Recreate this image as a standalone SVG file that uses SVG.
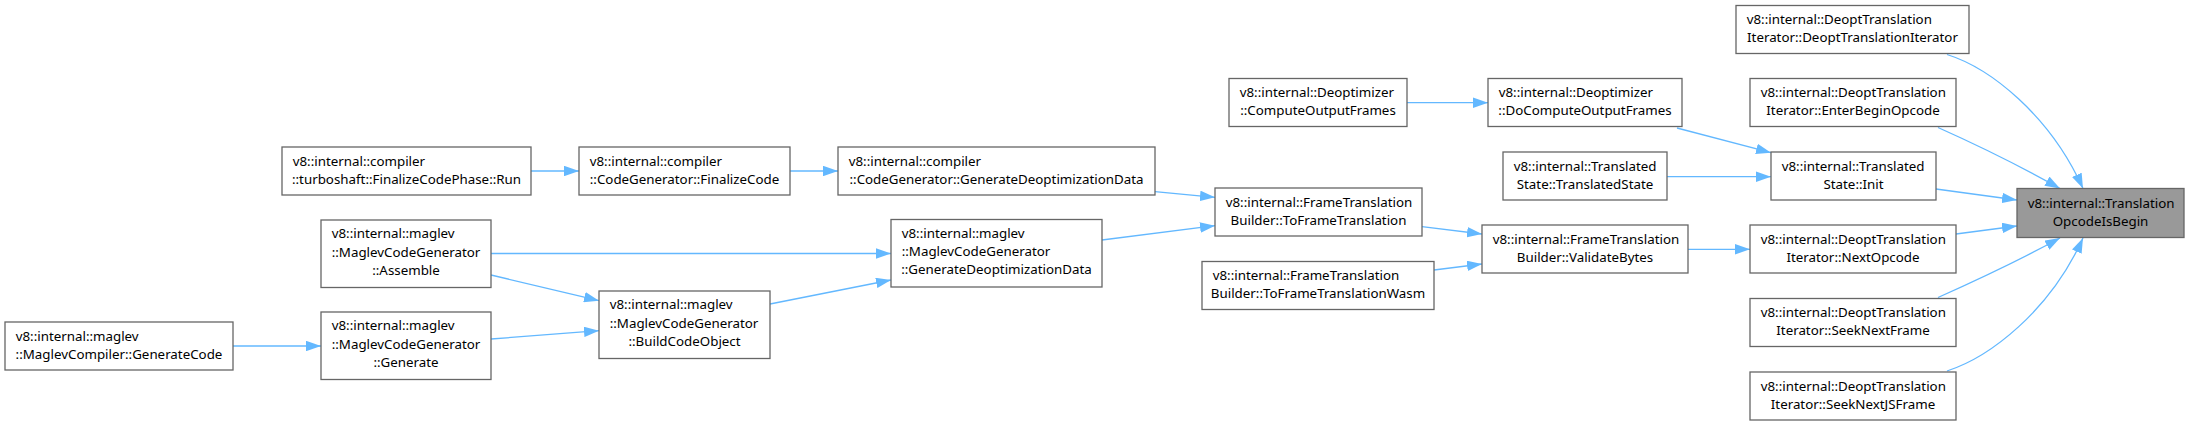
<svg xmlns="http://www.w3.org/2000/svg" width="2190" height="426" viewBox="0 0 2190 426">
<style>
.n rect{fill:#ffffff;stroke:#666666;stroke-width:1.3}
.main rect{fill:#999999;stroke:#666666;stroke-width:1.3}
text{font-family:"Noto Sans","DejaVu Sans",sans-serif;font-size:13.33px;fill:#000000}
.s{text-anchor:start}
.m{text-anchor:middle}
#edges path{fill:none;stroke:#63b8ff;stroke-width:1.3;marker-end:url(#ah)}
</style>
<defs>
<marker id="ah" markerUnits="userSpaceOnUse" viewBox="0 0 15 10.5" markerWidth="15" markerHeight="10.5" refX="15" refY="5.25" orient="auto">
<path d="M0,0 L15,5.25 L0,10.5 z" fill="#63b8ff"/>
</marker>
</defs>
<rect width="2190" height="426" fill="#ffffff"/>
<g id="edges">
<path d="M531,171 L579,171"/>
<path d="M790,171 L838,171"/>
<path d="M1155,191.7 L1215,197.3"/>
<path d="M1102,240 L1215,225.7"/>
<path d="M1422,226.7 L1482,234"/>
<path d="M1434,270 L1482,264"/>
<path d="M1688,249.3 L1750,249.3"/>
<path d="M1407,102.7 L1488,102.7"/>
<path d="M1677,128 L1771,152.7"/>
<path d="M1667,176.7 L1771,176.7"/>
<path d="M1936,189 L2017,200"/>
<path d="M1956,234 L2017,226"/>
<path d="M1938,127.5 C1975,144 2020,166 2060,188.5"/>
<path d="M1947,54.5 C1990,68 2050,115 2083,188.5"/>
<path d="M1938,297.5 C1975,281 2020,260 2060,238"/>
<path d="M1947,371 C1990,357 2050,311 2083,238"/>
<path d="M491,253.5 L891,253.5"/>
<path d="M491,275 L599,300.7"/>
<path d="M491,339 L599,330.7"/>
<path d="M770,304 L891,280"/>
<path d="M233,346 L321,346"/>
</g>
<g id="n_run" class="n"><rect x="282" y="147" width="249" height="48"/><text class="s" x="292.7" y="165.5">v8::internal::compiler</text><text class="m" x="406.5" y="183.8">::turboshaft::FinalizeCodePhase::Run</text></g>
<g id="n_finalize" class="n"><rect x="579" y="147" width="211" height="48"/><text class="s" x="589.7" y="165.5">v8::internal::compiler</text><text class="m" x="684.5" y="183.8">::CodeGenerator::FinalizeCode</text></g>
<g id="n_compgendeopt" class="n"><rect x="838" y="147" width="317" height="48"/><text class="s" x="848.7" y="165.5">v8::internal::compiler</text><text class="m" x="996.5" y="183.8">::CodeGenerator::GenerateDeoptimizationData</text></g>
<g id="n_assemble" class="n"><rect x="321" y="220" width="170" height="67.5"/><text class="s" x="331.7" y="238.3">v8::internal::maglev</text><text class="s" x="331.7" y="256.6">::MaglevCodeGenerator</text><text class="m" x="406" y="274.9">::Assemble</text></g>
<g id="n_gencode" class="n"><rect x="5" y="322" width="228" height="48"/><text class="s" x="15.7" y="340.5">v8::internal::maglev</text><text class="m" x="119" y="358.8">::MaglevCompiler::GenerateCode</text></g>
<g id="n_generate" class="n"><rect x="321" y="312" width="170" height="67.5"/><text class="s" x="331.7" y="330.3">v8::internal::maglev</text><text class="s" x="331.7" y="348.6">::MaglevCodeGenerator</text><text class="m" x="406" y="366.9">::Generate</text></g>
<g id="n_build" class="n"><rect x="599" y="291" width="171" height="67.5"/><text class="s" x="609.7" y="309.3">v8::internal::maglev</text><text class="s" x="609.7" y="327.6">::MaglevCodeGenerator</text><text class="m" x="684.5" y="345.9">::BuildCodeObject</text></g>
<g id="n_maglevgendeopt" class="n"><rect x="891" y="219.5" width="211" height="67.5"/><text class="s" x="901.7" y="237.8">v8::internal::maglev</text><text class="s" x="901.7" y="256.1">::MaglevCodeGenerator</text><text class="m" x="996.5" y="274.4">::GenerateDeoptimizationData</text></g>
<g id="n_compute" class="n"><rect x="1229" y="78.5" width="178" height="48"/><text class="s" x="1239.7" y="97">v8::internal::Deoptimizer</text><text class="m" x="1318" y="115.3">::ComputeOutputFrames</text></g>
<g id="n_docompute" class="n"><rect x="1488" y="78.5" width="194" height="48"/><text class="s" x="1498.7" y="97">v8::internal::Deoptimizer</text><text class="m" x="1585" y="115.3">::DoComputeOutputFrames</text></g>
<g id="n_toframe" class="n"><rect x="1215" y="188" width="207" height="48"/><text class="s" x="1225.7" y="206.5">v8::internal::FrameTranslation</text><text class="m" x="1318.5" y="224.8">Builder::ToFrameTranslation</text></g>
<g id="n_wasm" class="n"><rect x="1202" y="261.5" width="232" height="48"/><text class="s" x="1212.7" y="280">v8::internal::FrameTranslation</text><text class="m" x="1318" y="298.3">Builder::ToFrameTranslationWasm</text></g>
<g id="n_validate" class="n"><rect x="1482" y="225" width="206" height="48"/><text class="s" x="1492.7" y="243.5">v8::internal::FrameTranslation</text><text class="m" x="1585" y="261.8">Builder::ValidateBytes</text></g>
<g id="n_tstate" class="n"><rect x="1503" y="152" width="164" height="48"/><text class="s" x="1513.7" y="170.5">v8::internal::Translated</text><text class="m" x="1585" y="188.8">State::TranslatedState</text></g>
<g id="n_init" class="n"><rect x="1771" y="152" width="165" height="48"/><text class="s" x="1781.7" y="170.5">v8::internal::Translated</text><text class="m" x="1853.5" y="188.8">State::Init</text></g>
<g id="n_ctor" class="n"><rect x="1736" y="5.5" width="233" height="48"/><text class="s" x="1746.7" y="24">v8::internal::DeoptTranslation</text><text class="m" x="1852.5" y="42.3">Iterator::DeoptTranslationIterator</text></g>
<g id="n_enter" class="n"><rect x="1750" y="78.5" width="206" height="48"/><text class="s" x="1760.7" y="97">v8::internal::DeoptTranslation</text><text class="m" x="1853" y="115.3">Iterator::EnterBeginOpcode</text></g>
<g id="n_next" class="n"><rect x="1750" y="225" width="206" height="48"/><text class="s" x="1760.7" y="243.5">v8::internal::DeoptTranslation</text><text class="m" x="1853" y="261.8">Iterator::NextOpcode</text></g>
<g id="n_seekframe" class="n"><rect x="1750" y="298.5" width="206" height="48"/><text class="s" x="1760.7" y="317">v8::internal::DeoptTranslation</text><text class="m" x="1853" y="335.3">Iterator::SeekNextFrame</text></g>
<g id="n_seekjs" class="n"><rect x="1750" y="372" width="206" height="48"/><text class="s" x="1760.7" y="390.5">v8::internal::DeoptTranslation</text><text class="m" x="1853" y="408.8">Iterator::SeekNextJSFrame</text></g>
<g id="n_main" class="main"><rect x="2017" y="188.5" width="167" height="49"/><text class="s" x="2027.7" y="207.5">v8::internal::Translation</text><text class="m" x="2100.5" y="225.8">OpcodeIsBegin</text></g>
</svg>
